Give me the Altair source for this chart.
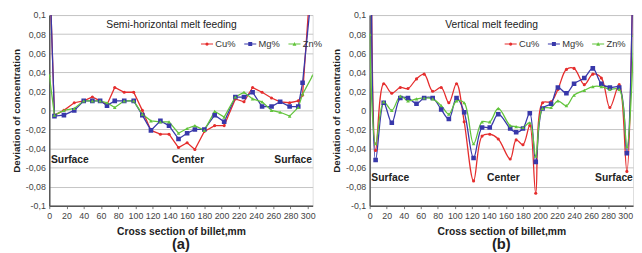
import altair as alt
import pandas as pd

series = ["Cu%", "Mg%", "Zn%"]
colors = ["#e52d2d", "#3838aa", "#62c43c"]
marker_shapes = ["circle", "square", "triangle-up"]
marker_sizes = [10, 22, 14]
y_ticks = [-0.1, -0.08, -0.06, -0.04, -0.02, 0, 0.02, 0.04, 0.06, 0.08, 0.1]
x_ticks = [0, 20, 40, 60, 80, 100, 120, 140, 160, 180, 200, 220, 240, 260, 280, 300]

# ---------------- panel (a): semi-horizontal melt feeding ----------------
a_x = [6, 17, 29, 40, 50, 59, 67, 76, 87, 98, 108, 118, 129, 139, 150, 160, 169, 180,
       192, 203, 216, 226, 236, 247, 258, 268, 279, 289, 294]
a_cu_x = [1] + a_x + [302]
a_cu = [0.13, -0.005, 0, 0.008, 0.01, 0.014, 0.01, 0.006, 0.024, 0.019, 0.019, 0, -0.021,
        -0.025, -0.025, -0.039, -0.034, -0.041, -0.022, -0.016, -0.016, 0.012, 0.009, 0.024,
        0.019, 0.013, 0.009, 0.008, 0.01, 0.016, 0.12]
a_mg_x = [1] + a_x + [304]
a_mg = [0.13, -0.006, -0.005, 0, 0.01, 0.01, 0.01, 0.005, 0.01, 0.01, 0.01, -0.005, -0.021,
        -0.011, -0.016, -0.030, -0.024, -0.020, -0.020, -0.005, -0.012, 0.014, 0.014, 0.019,
        0.004, 0.004, 0.009, 0.004, 0.004, 0.029, 0.12]
a_zn_x = [0] + a_x + [306]
a_zn = [0.037, -0.005, 0, 0.002, 0.01, 0.01, 0.01, 0.008, 0.003, 0.01, 0.01, -0.004, -0.011,
        -0.012, -0.012, -0.024, -0.019, -0.016, -0.021, -0.001, -0.007, 0.014, 0.019, 0.012,
        0.009, 0, -0.002, -0.006, 0.003, 0.017, 0.037]

# ---------------- panel (b): vertical melt feeding ----------------
b_x = [7, 16.5, 26, 36, 45, 55, 64, 74, 84, 93, 102, 111, 122, 132, 141, 151, 165, 172, 180,
       188, 195, 203, 213, 221, 231, 240, 252, 262, 272, 282, 293, 302]
b_cu_x = [2] + b_x + [309]
b_cu = [0.15, -0.042, 0.028, 0.018, 0.024, 0.023, 0.033, 0.038, 0.02, 0.024, 0.008, 0.028,
        -0.012, -0.074, -0.027, -0.025, -0.030, -0.051, -0.031, -0.036, -0.016, -0.087, 0.008,
        0.009, 0.022, 0.043, 0.044, 0.027, 0.038, 0.034, 0.003, 0.027, -0.064, 0.15]
b_mg_x = [2] + b_x + [309]
b_mg = [0.15, -0.052, 0.008, -0.013, 0.013, 0.013, 0.007, 0.013, 0.013, 0.001, -0.009, 0.013,
        -0.002, -0.050, -0.018, -0.018, -0.004, -0.019, -0.023, -0.019, -0.003, -0.054, 0.002,
        0.007, 0.024, 0.018, 0.028, 0.034, 0.044, 0.028, 0.024, 0.024, -0.045, 0.15]
b_zn_x = [0] + b_x + [310]
b_zn = [0.08, -0.035, 0.009, 0, 0.015, 0.01, 0.012, 0.013, 0.012, 0.005, -0.004, 0.01, 0.008,
        -0.035, -0.012, -0.012, 0.002, -0.016, -0.017, -0.018, -0.013, -0.048, 0.002, 0.003,
        0.01, 0.005, 0.016, 0.021, 0.025, 0.025, 0.022, 0.022, -0.038, 0.079]

ann_labels = ["Surface", "Center", "Surface"]
a_ann_x = [2, 161, 305]
a_ann_y = -0.052
b_ann_x = [2, 157, 309]
b_ann_y = -0.071

FONT = "Liberation Sans"

leg_paths = [
    "M-1,-0.07H1V0.07H-1Z M-0.27,0A0.27,0.27 0 1,1 0.27,0A0.27,0.27 0 1,1 -0.27,0Z",
    "M-1,-0.07H1V0.07H-1Z M-0.33,-0.33H0.33V0.33H-0.33Z",
    "M-1,-0.07H1V0.07H-1Z M0,-0.32L0.32,0.28L-0.32,0.28Z",
]


def frame(xs_list, ys_list):
    rows = []
    for s, xs, ys in zip(series, xs_list, ys_list):
        for i, (x, v) in enumerate(zip(xs, ys)):
            rows.append({"x": x, "v": v, "s": s, "i": i})
    return pd.DataFrame(rows)


label_expr = ("abs(datum.value) < 1e-9 ? '0' : (datum.value < 0 ? '-' : '') + "
              "replace(format(abs(datum.value), '.2~f'), '.', ',')")


def legend_params(leg_x):
    return alt.Legend(title=None, orient="none", legendX=leg_x, legendY=23,
                      direction="horizontal", symbolSize=150, symbolOpacity=1,
                      labelFont=FONT, labelFontSize=9.5, labelColor="#333", labelOffset=2,
                      columnPadding=8, symbolStrokeWidth=0)


def panel(df, title_text, title_x, interp, xmax, ann_x, ann_y, leg_x, sub):
    xs = alt.X("x:Q", scale=alt.Scale(domain=[0, xmax], nice=False, zero=False),
               axis=alt.Axis(values=x_ticks, title="Cross section of billet,mm", grid=False,
                             labelFontSize=9, labelColor="#444", labelFont=FONT,
                             tickSize=3, tickColor="#777", domainColor="#555",
                             domainWidth=1.5, labelPadding=3, titleFont=FONT,
                             titleFontSize=10.5, titleFontWeight="bold", titleColor="#222",
                             titlePadding=6, labelFlush=False))
    ys = alt.Y("v:Q", scale=alt.Scale(domain=[-0.1, 0.1], nice=False, zero=False),
               axis=alt.Axis(values=y_ticks, labelExpr=label_expr,
                             title="Deviation of concentration", grid=True,
                             gridColor="#c4c4c4", gridWidth=1, ticks=False,
                             labelFontSize=9, labelColor="#444", labelFont=FONT,
                             labelPadding=4, domainColor="#555", domainWidth=1.5,
                             titleFont=FONT, titleFontSize=10, titleFontWeight="bold",
                             titleColor="#222", titlePadding=4))
    base = alt.Chart(df)
    layers = []
    for s, c in zip(series, colors):
        layers.append(base.transform_filter(alt.datum.s == s).mark_line(
            interpolate=interp, clip=True, strokeWidth=1.3, color=c).encode(
            x=xs, y=ys, order="i:Q"))
    for s, c, shp, sz in zip(series, colors, marker_shapes, marker_sizes):
        layers.append(base.transform_filter(alt.datum.s == s).mark_point(
            filled=True, clip=True, opacity=1, shape=shp, size=sz, color=c).encode(
            x=xs, y=ys))
    leg = base.transform_filter("datum.x > 100000").mark_point(filled=True, clip=True).encode(
        x=xs, y=ys,
        fill=alt.Fill("s:N", scale=alt.Scale(domain=series, range=colors),
                      legend=legend_params(leg_x)),
        shape=alt.Shape("s:N", scale=alt.Scale(domain=series, range=leg_paths),
                        legend=legend_params(leg_x)))
    layers.append(leg)
    one = pd.DataFrame({"t": [title_text]})
    layers.append(alt.Chart(one).mark_text(align="left", baseline="middle", font=FONT,
                                           fontSize=10.5, color="#222").encode(
        x=alt.value(title_x), y=alt.value(10), text="t:N"))
    ann_df = pd.DataFrame({"lab": ann_labels, "x": ann_x, "v": [ann_y] * 3})
    for idx, al in enumerate(["left", "center", "right"]):
        layers.append(alt.Chart(ann_df.iloc[[idx]]).mark_text(
            align=al, baseline="middle", font=FONT, fontSize=10.5, fontWeight="bold",
            color="#222").encode(x=xs, y=ys, text="lab:N"))
    return alt.layer(*layers).properties(
        width=268, height=194,
        title=alt.TitleParams(sub, orient="bottom", fontSize=15, fontWeight="bold",
                              font=FONT, color="#222", offset=1))


df_a = frame([a_cu_x, a_mg_x, a_zn_x], [a_cu, a_mg, a_zn])
df_b = frame([b_cu_x, b_mg_x, b_zn_x], [b_cu, b_mg, b_zn])

pa = panel(df_a, "Semi-horizontal melt feeding", 58, "linear", 305.7, a_ann_x, a_ann_y, 154, "(a)")
pb = panel(df_b, "Vertical melt feeding", 77, "catmull-rom", 309.2, b_ann_x, b_ann_y, 137, "(b)")

chart = alt.hconcat(pa, pb, spacing=7).resolve_scale(
    fill="independent", shape="independent"
).resolve_legend(fill="independent", shape="independent").properties(
    padding={"left": 2, "top": 0, "right": 0, "bottom": 0}
).configure_view(stroke="#b0b0b0", strokeWidth=1).configure(background="white")

chart.save("out.html", embed_options={"renderer": "svg", "actions": False})
